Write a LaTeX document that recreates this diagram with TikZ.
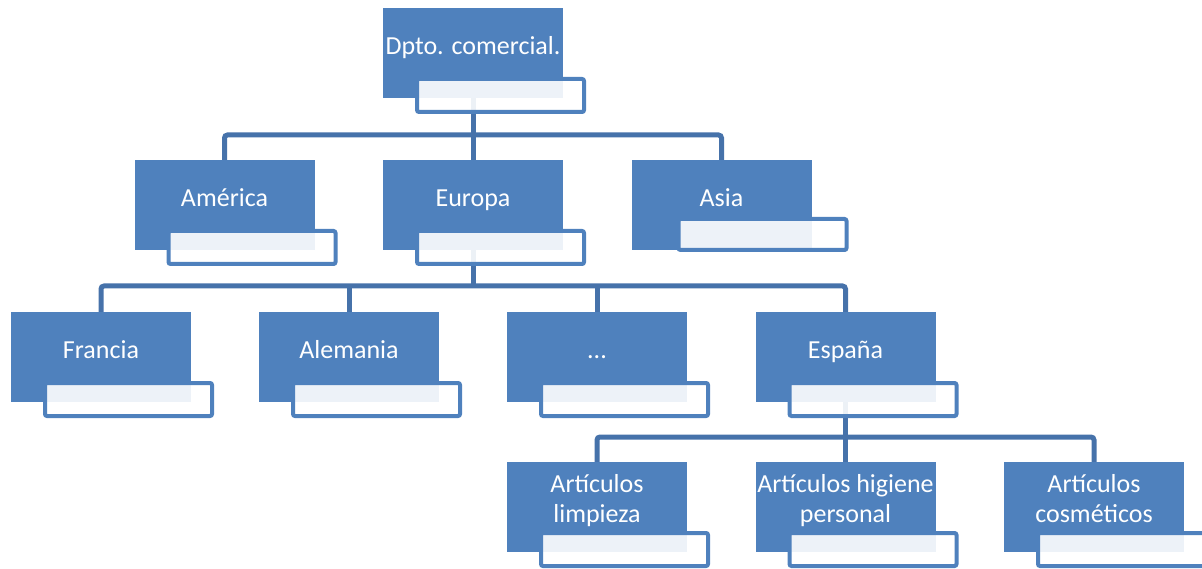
\documentclass[tikz,border=0pt]{standalone}
\usepackage{fontspec}
\setmainfont{Carlito}
\usetikzlibrary{calc,backgrounds}
\definecolor{boxblue}{HTML}{4F81BD}
\definecolor{linkblue}{HTML}{4672AA}
\tikzset{
  unitbox/.style={fill=boxblue, draw=none, minimum width=180pt, minimum height=90pt, inner sep=0pt, outer sep=0pt},
  tagbox/.style={draw=boxblue, line width=4pt, fill=white, fill opacity=0.9, rounded corners=2pt},
  conn/.style={draw=linkblue, line width=5pt, rounded corners=3pt},
  lbl/.style={text=white, font=\fontsize{26}{30}\selectfont, align=center, inner sep=0pt, anchor=base}
}
\newcommand\orgunit[5]{% name, cx, cy, text, baseline (last line) offset from top
  \node[unitbox] (#1) at (#2,#3) {};
  \draw[tagbox] ($(#1.south west)+(34,-19)$) rectangle ($(#1.south east)+(21,14)$);
  \node[lbl] (#1-t) at (#2,#3-45+#5) {#4};
}
\begin{document}
\begin{tikzpicture}[x=1pt,y=-1pt]
\useasboundingbox (0,0) rectangle (1202,569);
\clip (0,0) rectangle (1202,569);
% nodes
\orgunit{dpto}{473}{53}{Dpto. comercial.}{47}
\orgunit{america}{224.5}{205}{América}{47}
\orgunit{europa}{473}{205}{Europa}{47}
% Asia has a shifted tag box
\node[unitbox] (asia) at (721.5,205) {};
\draw[tagbox] ($(asia.south west)+(47,-31)$) rectangle ($(asia.south east)+(35,0)$);
\node[lbl] (asia-t) at (721.5,207) {Asia};
\orgunit{francia}{101}{357}{Francia}{46.5}
\orgunit{alemania}{349}{357}{Alemania}{46.5}
\orgunit{otros}{597}{357}{...}{46.5}
\orgunit{espana}{845.5}{357}{España}{46.5}
\orgunit{limpieza}{597}{507}{Artículos\\limpieza}{60.5}
\orgunit{higiene}{845.5}{507}{Artículos higiene\\personal}{60.5}
\orgunit{cosmeticos}{1094}{507}{Artículos\\cosméticos}{60.5}
% connectors
\begin{scope}[on background layer]
  \coordinate (bus1) at (473,135);
  \draw[conn] (america.north) -- (america.north |- bus1) -- (asia.north |- bus1) -- (asia.north);
  \draw[conn] (dpto.center) -- (dpto.center |- bus1);
  \draw[conn] (europa.north) -- (europa.north |- bus1);
  \coordinate (bus2) at (473,286);
  \draw[conn] (francia.north) -- (francia.north |- bus2) -- (espana.north |- bus2) -- (espana.north);
  \draw[conn] (europa.center) -- (europa.center |- bus2);
  \draw[conn] (alemania.north) -- (alemania.north |- bus2);
  \draw[conn] (otros.north) -- (otros.north |- bus2);
  \coordinate (bus3) at (846,437);
  \draw[conn] (limpieza.north) -- (limpieza.north |- bus3) -- (cosmeticos.north |- bus3) -- (cosmeticos.north);
  \draw[conn] (espana.center) -- (espana.center |- bus3);
  \draw[conn] (higiene.north) -- (higiene.north |- bus3);
\end{scope}
\end{tikzpicture}
\end{document}
